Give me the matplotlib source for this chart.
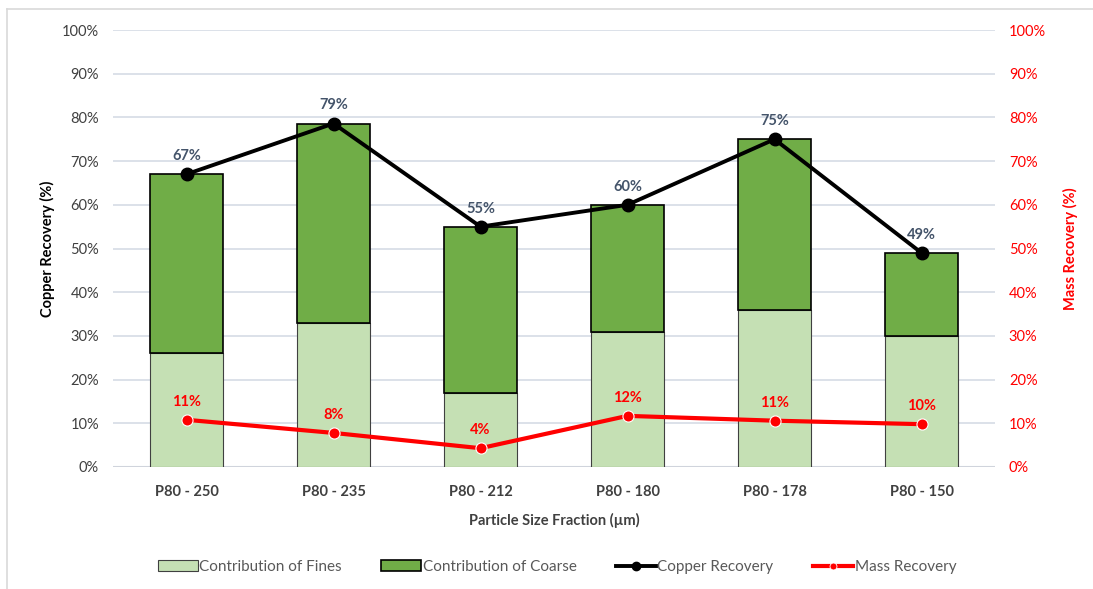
import matplotlib
matplotlib.use("Agg")
import matplotlib.pyplot as plt
from matplotlib.lines import Line2D
from matplotlib.patches import Patch
import numpy as np

plt.rcParams['font.family'] = ['Lato', 'DejaVu Sans']

categories = ["P80 - 250", "P80 - 235", "P80 - 212", "P80 - 180", "P80 - 178", "P80 - 150"]
fines = [26, 33, 17, 31, 36, 30]
copper_recovery = [67, 78.6, 55, 60, 75, 49]
coarse = [c - f for c, f in zip(copper_recovery, fines)]
mass_recovery = [10.8, 7.8, 4.3, 11.7, 10.6, 9.8]
yticks = list(range(0, 101, 10))

W, H = 1093, 589
fig = plt.figure(figsize=(W / 100, H / 100), dpi=100)
fig.patch.set_facecolor("white")

# chart border (top and left)
fig.add_artist(Line2D([7 / W, 7 / W], [0, 1 - 9 / H], color="#D9D9D9", lw=1.2, transform=fig.transFigure))
fig.add_artist(Line2D([7 / W, 1], [1 - 9 / H, 1 - 9 / H], color="#D9D9D9", lw=1.2, transform=fig.transFigure))

left, right, bottom, top = 113 / W, 995 / W, 1 - 467 / H, 1 - 30 / H
ax = fig.add_axes([left, bottom, right - left, top - bottom])
ax2 = ax.twinx()

x = np.arange(len(categories))
fine_col = "#C5E0B4"
coarse_col = "#70AD47"

ax.bar(x, fines, width=0.5, color=fine_col, edgecolor="#404040", linewidth=0.8, zorder=2)
ax.bar(x, coarse, width=0.5, bottom=fines, color=coarse_col, edgecolor="black", linewidth=1.2, zorder=2)
ax.plot(x, copper_recovery, color="black", lw=2.8, marker="o", markersize=9, zorder=4)
for xi, v in zip(x, copper_recovery):
    ax.annotate(f"{round(v)}%", (xi, v), xytext=(0, 8), textcoords="offset points",
                ha="center", va="bottom", fontsize=10.5, fontweight="bold", color="#44546A", zorder=5)

ax.set_xlim(-0.5, len(categories) - 0.5)
ax.set_ylim(0, 100)
ax.set_yticks(yticks)
ax.set_yticklabels([f"{t}%" for t in yticks], fontsize=10.5, color="#404040")
ax.set_xticks(x)
ax.set_xticklabels(categories, fontsize=10.5, fontweight="bold", color="#404040")
ax.tick_params(axis="both", length=0, pad=10)
ax.tick_params(axis="x", pad=13)
ax.grid(axis="y", color="#D6DCE5", lw=1.2, zorder=0)
ax.set_axisbelow(True)
for s in ax.spines.values():
    s.set_visible(False)
ax.axhline(0, color="#D0D4DC", lw=1.5, zorder=1)
ax.set_ylabel("Copper Recovery (%)", fontsize=10.5, fontweight="bold", color="black", labelpad=5)
ax.set_xlabel("Particle Size Fraction (µm)", fontsize=10.5, fontweight="bold", color="#404040", labelpad=10)

ax2.plot(x, mass_recovery, color="#FF0000", lw=3, marker="o", markersize=8,
         markeredgecolor="white", markeredgewidth=0.8, zorder=4)
for xi, v in zip(x, mass_recovery):
    ax2.annotate(f"{round(v)}%", (xi, v), xytext=(0, 8), textcoords="offset points",
                 ha="center", va="bottom", fontsize=10.5, fontweight="bold", color="#FF0000")
ax2.set_ylim(0, 100)
ax2.set_yticks(yticks)
ax2.set_yticklabels([f"{t}%" for t in yticks], fontsize=10.5, color="#FF0000")
ax2.tick_params(axis="y", length=0, pad=10)
for s in ax2.spines.values():
    s.set_visible(False)
ax2.set_ylabel("Mass Recovery (%)", fontsize=10.5, fontweight="bold", color="#FF0000", labelpad=12)

handles = [
    Patch(facecolor=fine_col, edgecolor="#404040", linewidth=0.8, label="Contribution of Fines"),
    Patch(facecolor=coarse_col, edgecolor="black", linewidth=1.2, label="Contribution of Coarse"),
    Line2D([0], [0], color="black", lw=2.8, marker="o", markersize=6, label="Copper Recovery"),
    Line2D([0], [0], color="#FF0000", lw=3, marker="o", markersize=5,
           markeredgecolor="white", markeredgewidth=0.6, label="Mass Recovery"),
]
fig.legend(handles=handles, loc="center", bbox_to_anchor=(557 / W, 1 - 567 / H), ncol=4,
           frameon=False, fontsize=11, handlelength=2.6, handletextpad=0.1, columnspacing=2.6,
           labelcolor="#595959")

fig.savefig("out.png", dpi=100, facecolor="white")
